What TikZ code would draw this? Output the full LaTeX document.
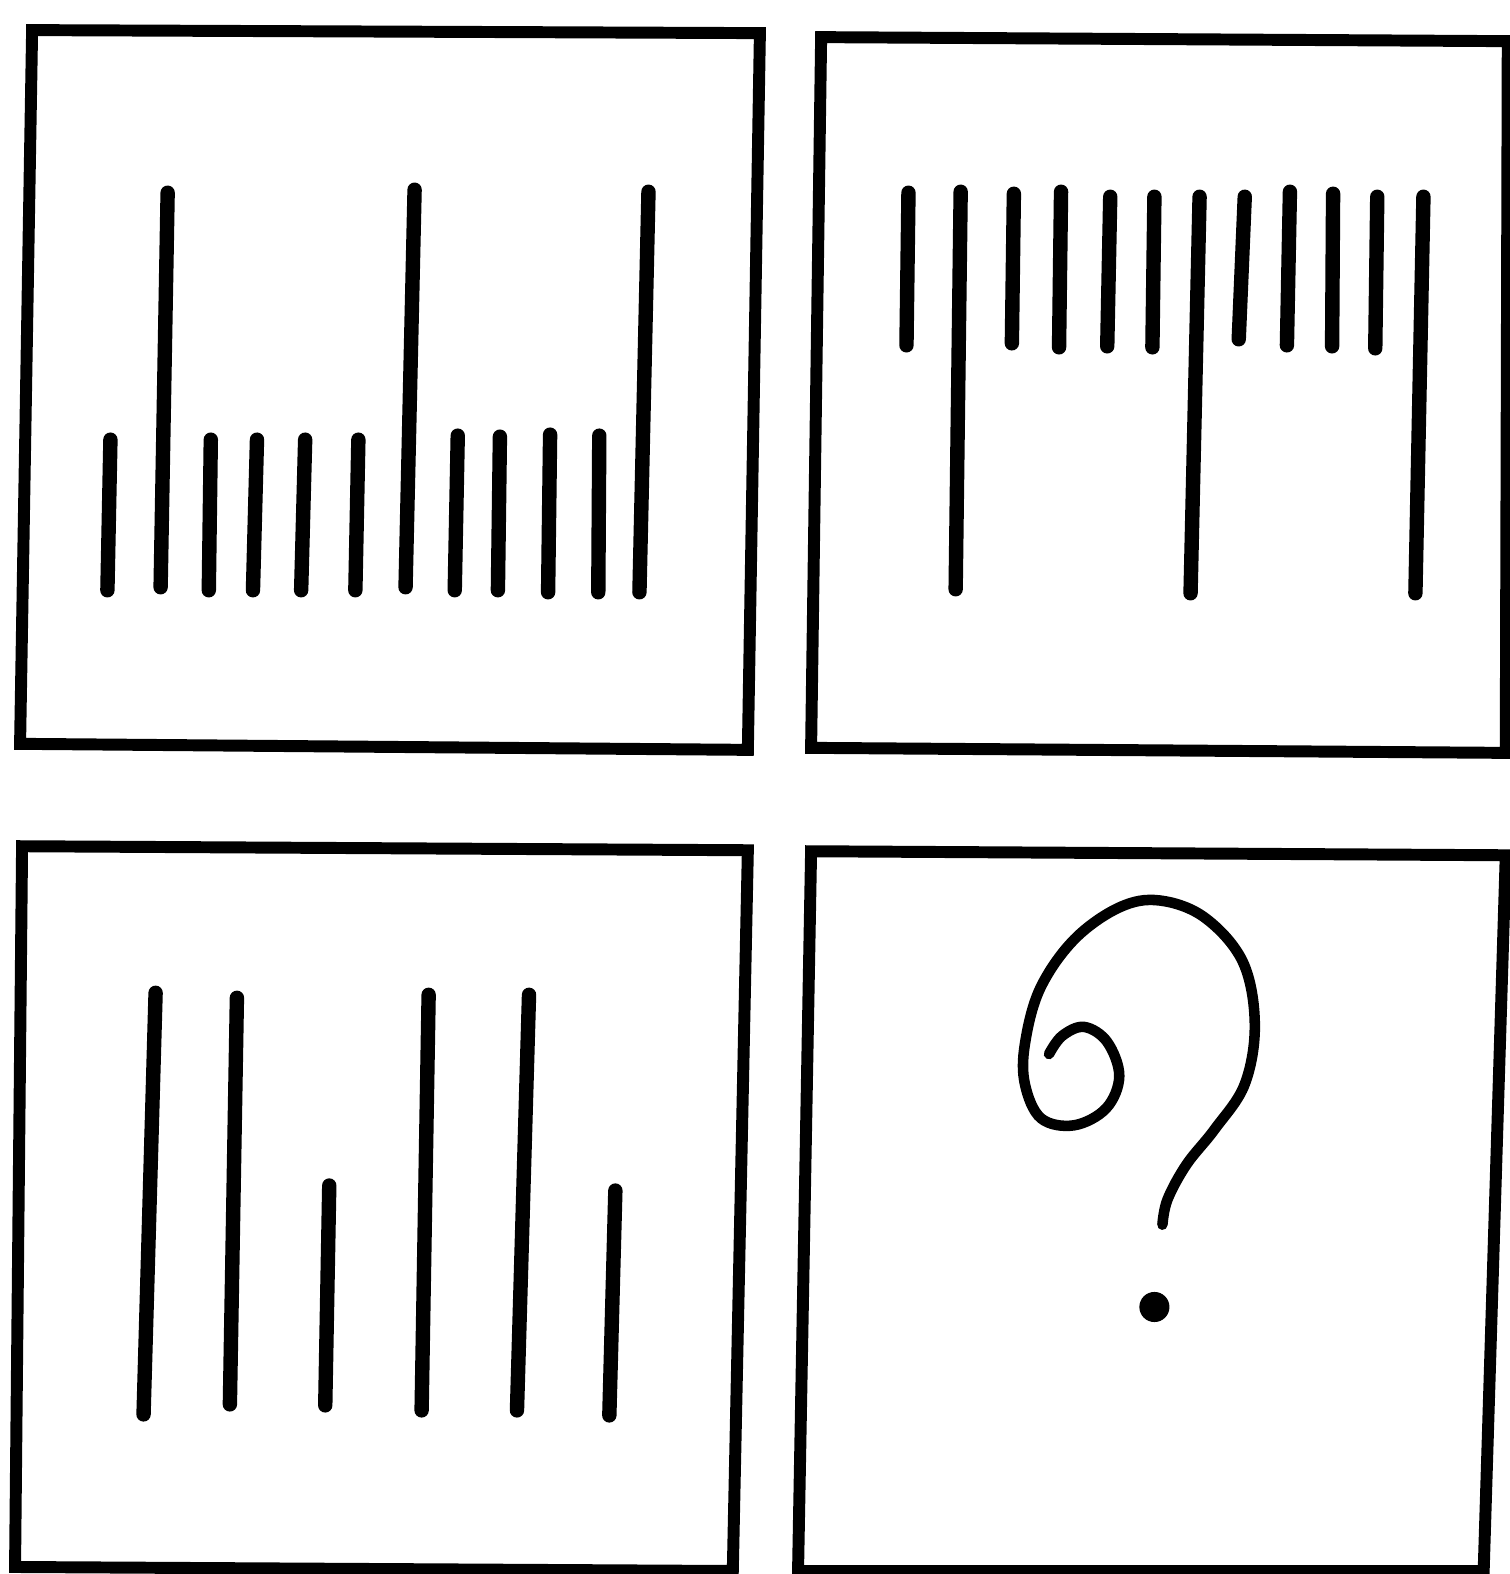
\documentclass[tikz,border=0pt]{standalone}
\begin{document}
\begin{tikzpicture}[x=0.01004cm,y=-0.01004cm,
  frame/.style={line width=3.4pt,line join=miter},
  bar/.style={line width=4.1pt,line cap=round},
  curl/.style={line width=3pt,line cap=round}]
\useasboundingbox (0,0) rectangle (1504,1568);
% frames
\draw[frame] (32,30) -- (757,33) -- (745,747) -- (20,741) -- cycle;
\draw[frame] (818,37) -- (1502,41) -- (1500,750) -- (808,745) -- cycle;
\draw[frame] (22,843) -- (745,847) -- (730,1565) -- (15,1561) -- cycle;
\draw[frame] (808,848) -- (1500,852) -- (1478,1565) -- (795,1565) -- cycle;
% panel 1
\foreach \xa/\ya/\xb/\yb in {
  110/438/107/588, 167/192/160/585, 210/438/208/588, 256/438/252/588,
  304/438/300/588, 357/438/354/588, 413/189/404/585, 456/434/453/588,
  498/435/496/588, 548/433/546/590, 597/434/596/590, 646/191/637/590}
  \draw[bar] (\xa,\ya) -- (\xb,\yb);
% panel 2
\foreach \xa/\ya/\xb/\yb in {
  905/192/903/344, 957/191/952/587, 1010/193/1008/342, 1057/191/1055/346,
  1106/196/1103/345, 1150/196/1148/346, 1195/196/1186/591, 1240/196/1234/338,
  1285/191/1282/344, 1328/193/1327/345, 1372/196/1370/347, 1418/196/1410/591}
  \draw[bar] (\xa,\ya) -- (\xb,\yb);
% panel 3
\foreach \xa/\ya/\xb/\yb in {
  155/989/143/1409, 236/994/229/1399, 328/1181/324/1400,
  427/991/420/1405, 527/991/515/1405, 613/1186/607/1410}
  \draw[bar] (\xa,\ya) -- (\xb,\yb);
% panel 4: question mark
\draw[curl] plot[smooth,tension=0.6] coordinates {
  (1045,1050) (1058,1032) (1080,1023) (1103,1038) (1115,1072) (1102,1104)
  (1070,1121) (1037,1114) (1021,1080) (1021,1040) (1036,985) (1070,936)
  (1115,904) (1155,897) (1200,914) (1238,958) (1250,1020) (1240,1080)
  (1210,1125) (1182,1160) (1163,1195) (1158,1220)};
\fill (1150,1302) circle (15);
\end{tikzpicture}
\end{document}
